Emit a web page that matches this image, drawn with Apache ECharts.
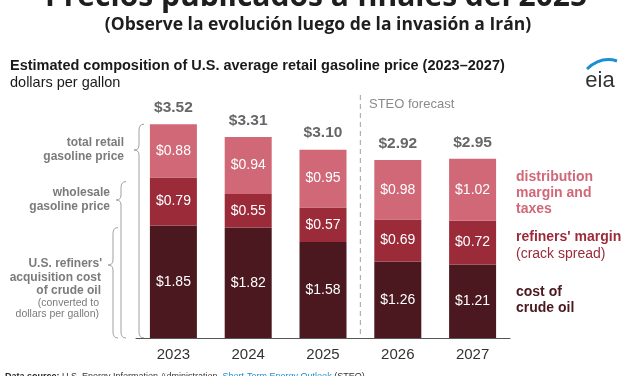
<!DOCTYPE html>
<html>
<head>
<meta charset="utf-8">
<script src="https://cdn.jsdelivr.net/npm/echarts@6/dist/echarts.min.js"></script>
<style>
html, body { margin: 0; padding: 0; background: #fff; }
#main { width: 627px; height: 376px; }
</style>
</head>
<body>
<div id="main"></div>
<script>
// data
var years = ['2023', '2024', '2025', '2026', '2027'];
var crudeCost = [1.85, 1.82, 1.58, 1.26, 1.21];
var refinerMargin = [0.79, 0.55, 0.57, 0.69, 0.72];
var distribution = [0.88, 0.94, 0.95, 0.98, 1.02];
var totals = [3.52, 3.31, 3.10, 2.92, 2.95];

var cPink = '#d06877';
var cRed = '#9c2b3a';
var cDark = '#4a181e';
var sans = 'Liberation Sans';

var chart = echarts.init(document.getElementById('main'));

function money(p) { return '$' + p.value.toFixed(2); }

function segLabel() {
	return { show: true, position: 'inside', color: '#fff', fontSize: 14, fontFamily: sans, formatter: money };
}

var option = {
	animation: false,
	grid: { left: 136, right: 117, top: 95, bottom: 38 },
	xAxis: {
		type: 'category',
		data: years,
		axisTick: { show: false },
		axisLine: { lineStyle: { color: '#555', width: 1 } },
		axisLabel: { color: '#333', fontSize: 15, fontFamily: sans, margin: 9 }
	},
	yAxis: { type: 'value', min: 0, max: 4, show: false },
	series: [
		{ name: 'cost of crude oil', type: 'bar', stack: 'p', barWidth: 47, data: crudeCost, itemStyle: { color: cDark }, label: segLabel() },
		{ name: "refiners' margin", type: 'bar', stack: 'p', data: refinerMargin, itemStyle: { color: cRed }, label: segLabel() },
		{ name: 'distribution', type: 'bar', stack: 'p', data: distribution, itemStyle: { color: cPink }, label: segLabel() },
		{
			name: 'total', type: 'scatter', data: totals, symbolSize: 1,
			itemStyle: { color: 'rgba(0,0,0,0)' },
			label: { show: true, position: 'top', distance: 8, color: '#404040', fontSize: 15.5, fontWeight: 'bold', fontFamily: sans, formatter: money }
		}
	]
};
chart.setOption(option);

// annotations placed from the axes
function px(i, v) { return chart.convertToPixel({ gridIndex: 0 }, [i, v]); }
var y0 = px(0, 0)[1];
var yTop = px(0, totals[0])[1];
var yWhole = px(0, crudeCost[0] + refinerMargin[0])[1];
var yCrude = px(0, crudeCost[0])[1];
var xSplit = (px(2, 0)[0] + px(3, 0)[0]) / 2;

var braceStyle = { fill: null, stroke: '#a0a0a0', lineWidth: 1 };
function curve(x1, y1, cx, cy, x2, y2) {
	return { type: 'bezierCurve', shape: { x1: x1, y1: y1, cpx1: cx, cpy1: cy, x2: x2, y2: y2 }, style: braceStyle };
}
function seg(x1, y1, x2, y2) {
	return { type: 'line', shape: { x1: x1, y1: y1, x2: x2, y2: y2 }, style: braceStyle };
}
function brace(xr, y1, ym, y2) {
	return {
		type: 'group',
		children: [
			curve(xr + 5, y1, xr, y1, xr, y1 + 6),
			seg(xr, y1 + 6, xr, ym - 5),
			curve(xr, ym - 5, xr, ym, xr - 5, ym),
			curve(xr - 5, ym, xr, ym, xr, ym + 5),
			seg(xr, ym + 5, xr, y2 - 6),
			curve(xr, y2 - 6, xr, y2, xr + 5, y2)
		]
	};
}

function txt(x, y, s, o) {
	o = o || {};
	return {
		type: 'text', x: x, y: y,
		style: {
			text: s, fill: o.color || '#333', font: (o.weight || 'normal') + ' ' + (o.size || 14) + 'px ' + (o.family || sans),
			align: o.align || 'left', verticalAlign: o.valign || 'middle'
		}
	};
}

var gray = '#7b7b7b';
var g = [
	txt(316, -3, 'Precios publicados a finales del 2025', { weight: 'bold', size: 30, family: 'Open Sans', align: 'center', color: '#1e1e1e' }),
	txt(318, 25, '(Observe la evolución luego de la invasión a Irán)', { weight: 'bold', size: 17.5, family: 'Open Sans', align: 'center', color: '#1e1e1e' }),
	txt(10, 66, 'Estimated composition of U.S. average retail gasoline price (2023\u20132027)', { weight: 'bold', size: 14.5, color: '#1a1a1a' }),
	txt(10, 83, 'dollars per gallon', { size: 14.5, color: '#1a1a1a' }),
	txt(600, 81, 'eia', { size: 22, align: 'center', color: '#333' }),
	{ type: 'bezierCurve', shape: { x1: 587, y1: 69, cpx1: 601, cpy1: 56, x2: 617, y2: 61 }, style: { fill: null, stroke: '#1a8fd6', lineWidth: 3 } },
	{ type: 'line', shape: { x1: xSplit, y1: 95, x2: xSplit, y2: y0 }, style: { stroke: '#b0b0b0', lineWidth: 1.2, lineDash: [5, 4] } },
	txt(369, 104, 'STEO forecast', { size: 13, color: '#8a8a8a' }),

	brace(139, yTop, 150, y0),
	brace(121, yWhole + 4, 200, y0),
	brace(113, yCrude + 2, 265, y0),

	txt(124, 143, 'total retail', { weight: 'bold', size: 12, color: gray, align: 'right' }),
	txt(124, 157, 'gasoline price', { weight: 'bold', size: 12, color: gray, align: 'right' }),
	txt(110, 193, 'wholesale', { weight: 'bold', size: 12, color: gray, align: 'right' }),
	txt(110, 207, 'gasoline price', { weight: 'bold', size: 12, color: gray, align: 'right' }),
	txt(102, 264, "U.S. refiners'", { weight: 'bold', size: 12, color: gray, align: 'right' }),
	txt(101, 278, 'acquisition cost', { weight: 'bold', size: 12, color: gray, align: 'right' }),
	txt(101, 291, 'of crude oil', { weight: 'bold', size: 12, color: gray, align: 'right' }),
	txt(99, 303, '(converted to', { size: 10.5, color: gray, align: 'right' }),
	txt(99, 314, 'dollars per gallon)', { size: 10.5, color: gray, align: 'right' }),

	txt(516, 177, 'distribution', { weight: 'bold', size: 14, color: cPink }),
	txt(516, 193, 'margin and', { weight: 'bold', size: 14, color: cPink }),
	txt(516, 209, 'taxes', { weight: 'bold', size: 14, color: cPink }),
	txt(516, 237, "refiners' margin", { weight: 'bold', size: 14, color: cRed }),
	txt(516, 254, '(crack spread)', { size: 14, color: cRed }),
	txt(516, 292, 'cost of', { weight: 'bold', size: 14, color: cDark }),
	txt(516, 308, 'crude oil', { weight: 'bold', size: 14, color: cDark }),

	{
		type: 'text', x: 5, y: 372.5,
		style: {
			text: '{b|Data source:} U.S. Energy Information Administration, {l|Short-Term Energy Outlook} (STEO)',
			fill: '#333', font: '9px ' + sans, verticalAlign: 'top',
			rich: { b: { fontWeight: 'bold', fontSize: 9, fill: '#222' }, l: { fill: '#1a8fd6', fontSize: 9 } }
		}
	}
];
chart.setOption({ graphic: g });
</script>
</body>
</html>
